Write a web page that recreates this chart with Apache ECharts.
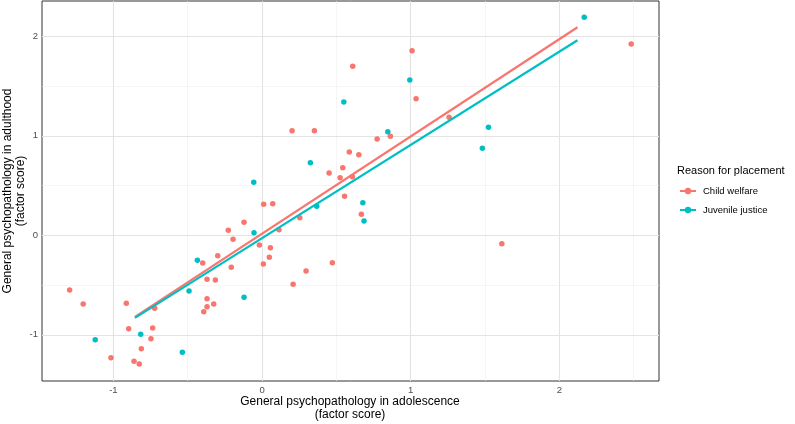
<!DOCTYPE html>
<html>
<head>
<meta charset="utf-8">
<script src="https://cdn.jsdelivr.net/npm/echarts@6/dist/echarts.min.js"></script>
<style>
html,body{margin:0;padding:0;background:#fff;}
#chart{width:795px;height:424px;}
</style>
</head>
<body>
<div id="chart"></div>
<script>
// Data
const childWelfareX = [-1.294,-1.203,-0.913,-0.722,-0.897,-0.736,-0.747,-0.812,-1.016,-0.861,-0.826,
  -0.399,-0.370,-0.314,-0.298,-0.370,-0.370,-0.325,-0.392,-0.227,-0.195,-0.207,-0.121,-0.018,0.056,0.049,
  0.009,0.011,0.072,0.114,0.254,0.296,0.209,0.473,0.202,0.352,0.451,0.543,0.525,0.608,0.587,0.651,0.555,
  0.668,0.610,0.774,0.863,1.009,1.036,1.258,1.613,2.483];
const childWelfareY = [-0.550,-0.691,-0.684,-0.734,-0.939,-0.932,-1.040,-1.140,-1.231,-1.267,-1.294,
  -0.279,-0.443,-0.450,-0.205,-0.638,-0.718,-0.691,-0.768,0.050,-0.040,-0.322,0.131,-0.098,-0.125,-0.221,
  -0.289,0.312,0.318,0.056,0.177,-0.359,-0.493,-0.276,1.052,1.052,0.627,0.680,0.579,0.589,0.838,0.811,0.392,
  0.211,1.700,0.969,0.996,1.857,1.374,1.187,-0.084,1.924];
const juvenileX = [-1.122,-0.816,-0.536,-0.491,-0.435,-0.121,-0.054,-0.056,0.368,0.325,0.550,0.678,0.686,
  0.846,0.994,1.482,1.523,2.167];
const juvenileY = [-1.050,-0.996,-1.177,-0.560,-0.251,-0.624,0.026,0.533,0.292,0.730,1.341,0.328,0.144,
  1.042,1.562,0.875,1.086,2.193];
// Fitted lines (endpoints)
const childWelfareFitX = [-0.855, 2.122];
const childWelfareFitY = [-0.820, 2.092];
const juvenileFitX = [-0.855, 2.122];
const juvenileFitY = [-0.830, 1.961];
// Axis settings
const xTickLabels = [-1, 0, 1, 2];
const yTickLabels = [-1, 0, 1, 2];
const xMajorGrid = [-1, 0, 1, 2];
const xMinorGrid = [-0.5, 0.5, 1.5, 2.5];
const yMajorGrid = [-1, 0, 1, 2];
const yMinorGrid = [-0.5, 0.5, 1.5];
const xRange = [-1.48, 2.67];
const yRange = [-1.465, 2.356];
const xTitleLines = ['General psychopathology in adolescence', '(factor score)'];
const yTitleLines = ['General psychopathology in adulthood', '(factor score)'];

const RED = '#F8766D', TEAL = '#00BFC4';
const zip = (a, b) => a.map((v, i) => [v, b[i]]);

const gridLines = [];
xMajorGrid.forEach(v => gridLines.push({xAxis: v, lineStyle: {color: '#e3e3e3', width: 1.1, type: 'solid'}}));
xMinorGrid.forEach(v => gridLines.push({xAxis: v, lineStyle: {color: '#efefef', width: 0.6, type: 'solid'}}));
yMajorGrid.forEach(v => gridLines.push({yAxis: v, lineStyle: {color: '#e3e3e3', width: 1.1, type: 'solid'}}));
yMinorGrid.forEach(v => gridLines.push({yAxis: v, lineStyle: {color: '#efefef', width: 0.6, type: 'solid'}}));

const chart = echarts.init(document.getElementById('chart'), null, {renderer: 'canvas'});
const FONT = 'Liberation Sans, Arial, sans-serif';
const titleStyle = {fontSize: 12, fontFamily: FONT, fill: '#000', textAlign: 'center', textVerticalAlign: 'middle'};
chart.setOption({
  animation: false,
  backgroundColor: '#fff',
  textStyle: {fontFamily: FONT},
  title: {
    text: 'Reason for placement',
    left: 677, top: 165, padding: 0,
    textStyle: {fontSize: 11, fontWeight: 'normal', color: '#000', fontFamily: FONT}
  },
  legend: {
    orient: 'vertical',
    left: 679, top: 186, padding: 0,
    itemWidth: 16, itemHeight: 8,
    itemGap: 9,
    data: ['Child welfare', 'Juvenile justice'],
    textStyle: {fontSize: 9.5, color: '#000', fontFamily: FONT, padding: [0, 0, 0, 2]}
  },
  graphic: [
    {type: 'text', x: 350, y: 402, style: Object.assign({text: xTitleLines[0]}, titleStyle)},
    {type: 'text', x: 350, y: 415, style: Object.assign({text: xTitleLines[1]}, titleStyle)},
    {type: 'text', x: 8, y: 191, rotation: Math.PI / 2, style: Object.assign({text: yTitleLines[0]}, titleStyle)},
    {type: 'text', x: 21, y: 191, rotation: Math.PI / 2, style: Object.assign({text: yTitleLines[1]}, titleStyle)}
  ],
  grid: {
    left: 42, right: 136, top: 1, bottom: 43,
    containLabel: false, outerBoundsMode: 'none',
    show: true, borderColor: '#333', borderWidth: 1, backgroundColor: '#fff'
  },
  xAxis: {
    type: 'value', min: xRange[0], max: xRange[1],
    axisLine: {show: false},
    axisTick: {show: true, length: 3, lineStyle: {color: '#333'}, customValues: xTickLabels},
    axisLabel: {customValues: xTickLabels, fontSize: 9.5, color: '#4d4d4d', margin: 4, fontFamily: FONT},
    splitLine: {show: false}
  },
  yAxis: {
    type: 'value', min: yRange[0], max: yRange[1],
    axisLine: {show: false},
    axisTick: {show: true, length: 3, lineStyle: {color: '#333'}, customValues: yTickLabels},
    axisLabel: {customValues: yTickLabels, fontSize: 9.5, color: '#4d4d4d', margin: 4, fontFamily: FONT},
    splitLine: {show: false}
  },
  series: [
    {
      name: 'Child welfare', type: 'line', z: 4,
      data: zip(childWelfareFitX, childWelfareFitY),
      symbol: 'circle', symbolSize: 6, showSymbol: false,
      itemStyle: {color: RED},
      lineStyle: {color: RED, width: 2.2}
    },
    {
      name: 'Juvenile justice', type: 'line', z: 4,
      data: zip(juvenileFitX, juvenileFitY),
      symbol: 'circle', symbolSize: 6, showSymbol: false,
      itemStyle: {color: TEAL},
      lineStyle: {color: TEAL, width: 2.2}
    },
    {
      name: 'grid', type: 'scatter', z: 1, data: [], silent: true,
      markLine: {silent: true, z: 1, symbol: ['none', 'none'], label: {show: false}, data: gridLines, animation: false}
    },
    {
      name: 'Child welfare', type: 'scatter', z: 3,
      data: zip(childWelfareX, childWelfareY),
      symbolSize: 5.5, itemStyle: {color: RED, opacity: 1}
    },
    {
      name: 'Juvenile justice', type: 'scatter', z: 3,
      data: zip(juvenileX, juvenileY),
      symbolSize: 5.5, itemStyle: {color: TEAL, opacity: 1}
    }
  ]
});
</script>
</body>
</html>
